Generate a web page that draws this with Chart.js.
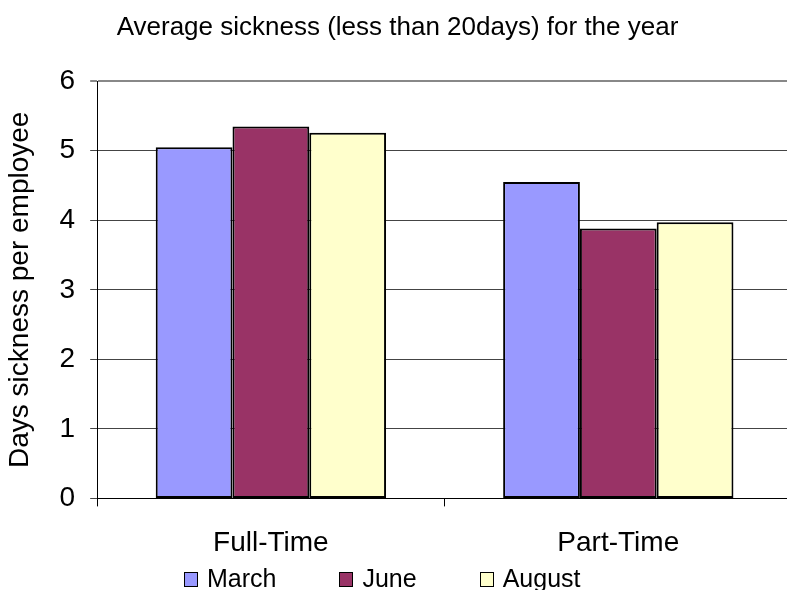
<!DOCTYPE html>
<html>
<head>
<meta charset="utf-8">
<script src="https://cdn.jsdelivr.net/npm/chart.js@4"></script>
<style>
  html, body { margin: 0; padding: 0; background: #fff; overflow: hidden; }
  #wrap { position: relative; width: 795px; height: 590px; }
  #legend {
    position: absolute; left: 184px; top: 563px;
    display: flex; align-items: center;
    font-family: 'Liberation Sans', Arial, sans-serif; font-size: 25px; color: #000;
  }
  #legend .item { display: flex; align-items: center; margin-right: 63px; line-height: 30px; }
  #legend .box { width: 12px; height: 13px; border: 1.5px solid #000; margin-right: 9px; margin-top: 3px; }
</style>
</head>
<body>
<div id="wrap">
  <canvas id="sickness"></canvas>
  <div id="legend"></div>
</div>
<script>
// chart data
const categories = ['Full-Time', 'Part-Time'];
const seriesNames = ['March', 'June', 'August'];
const march = [5.05, 4.55];
const june = [5.35, 3.88];
const august = [5.26, 3.97];
const yTicks = [0, 1, 2, 3, 4, 5, 6];

const colors = ['#9999FF', '#993366', '#FFFFCC'];
const font = 'Liberation Sans, Arial, sans-serif';

const ctx = document.getElementById('sickness').getContext('2d');
const chart = new Chart(ctx, {
  type: 'bar',
  data: {
    labels: categories,
    datasets: [march, june, august].map((vals, i) => ({
      label: seriesNames[i],
      data: vals,
      backgroundColor: colors[i],
      borderColor: '#000',
      borderWidth: 2,
      borderSkipped: false,
      categoryPercentage: 0.663,
      barPercentage: 1
    }))
  },
  options: {
    responsive: true,
    maintainAspectRatio: false,
    animation: false,
    layout: { padding: { top: 0, left: 3, right: 3, bottom: 10 } },
    plugins: {
      title: {
        display: true,
        text: 'Average sickness (less than 20days) for the year',
        color: '#000',
        font: { family: font, size: 26, weight: 'normal' },
        padding: { top: 12, bottom: 38 }
      },
      legend: { display: false },
      tooltip: { enabled: false }
    },
    scales: {
      x: {
        grid: {
          display: true,
          drawOnChartArea: false,
          offset: true,
          tickLength: 8,
          color: '#000'
        },
        border: { color: '#000', width: 1 },
        ticks: {
          color: '#000',
          font: { family: font, size: 28 },
          padding: 20
        }
      },
      y: {
        min: 0,
        max: 6,
        afterBuildTicks: axis => { axis.ticks = yTicks.map(v => ({ value: v })); },
        grid: {
          color: ctx => ctx.tick && ctx.tick.value === 6 ? '#888' : '#444',
          lineWidth: ctx => ctx.tick && ctx.tick.value === 6 ? 2 : 1,
          tickLength: 7
        },
        border: { color: '#000', width: 1 },
        ticks: {
          color: '#000',
          font: { family: font, size: 28 },
          padding: 15
        },
        title: {
          display: true,
          text: 'Days sickness per employee',
          color: '#000',
          font: { family: font, size: 28 },
          padding: { top: 0, bottom: 8 }
        }
      }
    }
  }
});

// html legend built from the datasets
const legendEl = document.getElementById('legend');
chart.data.datasets.forEach(ds => {
  const item = document.createElement('div');
  item.className = 'item';
  const box = document.createElement('span');
  box.className = 'box';
  box.style.background = ds.backgroundColor;
  item.appendChild(box);
  item.appendChild(document.createTextNode(ds.label));
  legendEl.appendChild(item);
});
</script>
</body>
</html>
